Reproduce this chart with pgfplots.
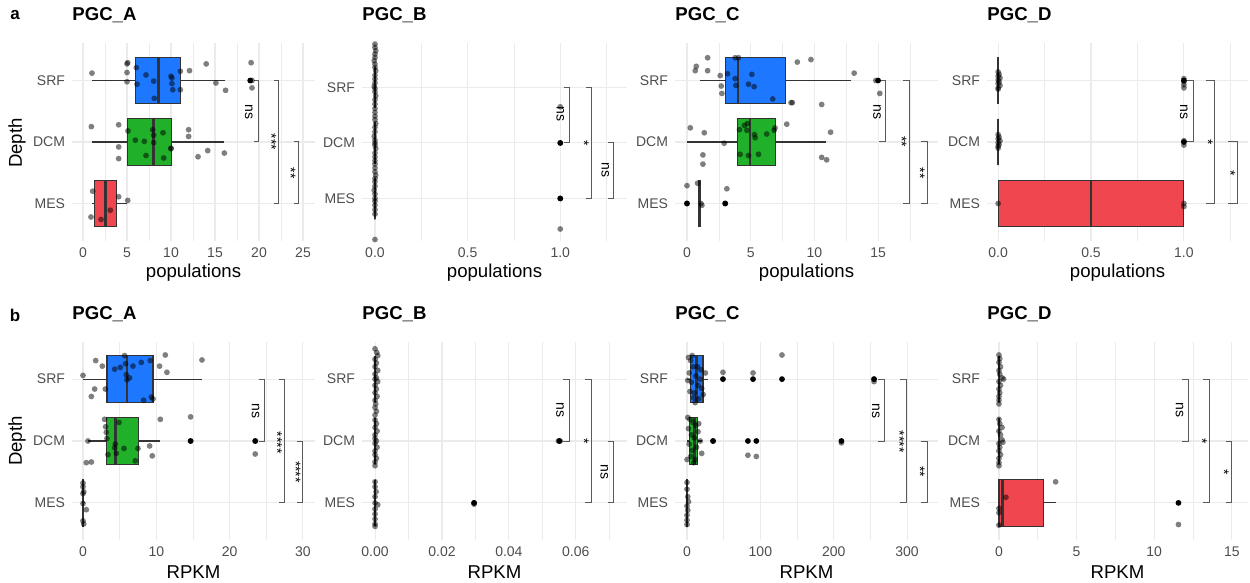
\documentclass[border=0pt]{standalone}
\usepackage{fontspec}
\setmainfont{Liberation Sans}
\usepackage{pgfplots}
\pgfplotsset{compat=1.18}
\usepgfplotslibrary{statistics}
\definecolor{cSRF}{RGB}{30,120,255}
\definecolor{cDCM}{RGB}{32,176,42}
\definecolor{cMES}{RGB}{240,70,80}
\definecolor{gridc}{RGB}{235,235,235}
\definecolor{tickc}{RGB}{77,77,77}
\definecolor{boxc}{RGB}{51,51,51}
\definecolor{brkc}{RGB}{90,90,90}
\tikzset{lab/.style={font=\fontsize{7}{8}\selectfont, rotate=-90, inner sep=0pt}}
\pgfplotsset{
 panel/.style={scale only axis, height=99pt, axis line style={draw=none}, tick style={draw=none},
  xmajorgrids, xminorgrids, ymajorgrids,
  major grid style={gridc, line width=0.55pt}, minor grid style={gridc, line width=0.3pt},
  ytick={1,2,3}, yticklabels={MES,DCM,SRF},
  tick label style={font=\fontsize{7}{8}\selectfont, text=tickc},
  /pgf/number format/assume math mode=true,
  xlabel style={font=\fontsize{9.3}{10}\selectfont, at={(axis description cs:0.5,-0.16)}, anchor=center},
  title style={font=\bfseries\fontsize{9.3}{10}\selectfont, at={(axis description cs:0,1)}, anchor=west, yshift=8pt, inner sep=0pt},
  clip=false, scaled x ticks=false},
 pts/.style={only marks, mark=*, mark size=1.45pt, mark options={draw=black, draw opacity=0, fill=black, fill opacity=0.5}},
 outl/.style={only marks, mark=*, mark size=1.45pt, mark options={draw=black, draw opacity=0, fill=black}},
 brk/.style={brkc, line width=0.5pt},
 bx/.style={draw=boxc, line width=0.55pt, fill=#1, boxplot/every median/.style={line width=1.3pt}},
}
\begin{document}
\begin{tikzpicture}
\useasboundingbox (0,0) rectangle (625pt,-291.5pt);
\begin{scope}[x=0.5pt,y=-0.5pt]
\node[font=\bfseries\fontsize{8.5}{10}\selectfont] at (15,15) {a};
\node[font=\bfseries\fontsize{8.5}{10}\selectfont] at (15,315) {b};
\node[font=\fontsize{9.3}{10}\selectfont, rotate=90] at (17,143) {Depth};
\node[font=\fontsize{9.3}{10}\selectfont, rotate=90] at (17,441) {Depth};
\end{scope}

% ---------------- a: PGC_A
\begin{axis}[panel, at={(36pt,-120.5pt)}, anchor=south west, width=121.5pt,
  xmin=-1.25, xmax=26.36, ymin=0.39, ymax=3.61,
  xtick={0,5,10,15,20,25}, xticklabels={0,5,10,15,20,25}, minor xtick={2.5,7.5,12.5,17.5,22.5},
  xlabel={populations}, title={PGC\_A}]
\addplot[bx=cSRF, boxplot prepared={lower whisker=1, lower quartile=6, median=8.6, upper quartile=11.1, upper whisker=16.1, draw position=3, box extend=0.75, whisker extend=0, draw direction=x}] coordinates {};
\addplot[bx=cDCM, boxplot prepared={lower whisker=1, lower quartile=5.08, median=8.03, upper quartile=10.1, upper whisker=16.06, draw position=2, box extend=0.75, whisker extend=0, draw direction=x}] coordinates {};
\addplot[bx=cMES, boxplot prepared={lower whisker=1, lower quartile=1.29, median=2.54, upper quartile=3.79, upper whisker=5, draw position=1, box extend=0.75, whisker extend=0, draw direction=x}] coordinates {};
\addplot[outl] coordinates {(19,3)};
\addplot[pts] coordinates {(1.02,3.12) (5.0,3.27) (5.08,3.29) (5.0,3.13) (5.0,2.98) (6.06,3.21) (6.14,2.94) (7.16,3.09) (8.03,2.99) (8.1,2.71) (10.0,3.07) (10.1,3.04) (10.1,2.95) (10.2,2.85) (11.06,3.15) (11.06,2.85) (12.1,3.16) (14.0,3.27) (15.1,2.96) (16.2,2.84) (19.1,3.29) (19.2,3.0) (19.2,2.88)
 (0.95,2.25) (4.05,2.28) (5.11,2.18) (4.05,1.92) (4.05,1.73) (5.95,2.03) (6.97,2.01) (7.16,1.78) (7.92,2.2) (8.03,2.11) (8.03,1.99) (9.09,2.15) (9.17,1.74) (10.0,1.89) (10.0,1.9) (12.0,2.2) (12.0,2.09) (13.07,1.76) (14.17,1.86) (16.06,1.82)
 (1.1,1.2) (4.05,1.11) (5.08,1.05) (3.1,0.89) (2.05,0.74) (0.91,0.78)};
\addplot[brk] coordinates {(19.45,3) (19.96,3) (19.96,2) (19.45,2)};
\addplot[brk] coordinates {(21.72,3) (22.23,3) (22.23,1) (21.72,1)};
\addplot[brk] coordinates {(23.92,2) (24.43,2) (24.43,1) (23.92,1)};
\node[lab] at (axis cs:18.83,2.49) {ns};
\node[lab] at (axis cs:21.40,2.0) {***};
\node[lab] at (axis cs:23.60,1.49) {**};
\end{axis}

% ---------------- a: PGC_B
\begin{axis}[panel, at={(181pt,-120.5pt)}, anchor=south west, width=132.5pt,
  xmin=-0.07, xmax=1.36, ymin=0.234, ymax=3.80,
  xtick={0,0.5,1}, xticklabels={0.0,0.5,1.0}, minor xtick={0.25,0.75,1.25},
  xlabel={populations}, title={PGC\_B}]
\addplot[bx=cSRF, boxplot prepared={lower whisker=0, lower quartile=0, median=0, upper quartile=0, upper whisker=0, draw position=3, box extend=0.75, whisker extend=0, draw direction=x}] coordinates {};
\addplot[bx=cDCM, boxplot prepared={lower whisker=0, lower quartile=0, median=0, upper quartile=0, upper whisker=0, draw position=2, box extend=0.75, whisker extend=0, draw direction=x}] coordinates {};
\addplot[bx=cMES, boxplot prepared={lower whisker=0, lower quartile=0, median=0, upper quartile=0, upper whisker=0, draw position=1, box extend=0.75, whisker extend=0, draw direction=x}] coordinates {};
\addplot[outl] coordinates {(1,2) (1,1)};
\addplot[pts] coordinates {(0,3.78) (0,3.72) (0.004,3.66) (0,3.6) (0,3.54) (-0.004,3.48) (0,3.42) (0,3.36) (0.004,3.3) (0,3.22) (0,3.15) (0,3.08) (-0.004,3.02) (0,2.98) (0,2.92) (0.004,2.85) (0,2.78) (0,2.7) (0,2.62) (0,2.55)
 (0,2.48) (0,2.42) (0.004,2.35) (0,2.28) (0,2.2) (-0.004,2.12) (0,2.05) (0,2.0) (0,1.96) (0.004,1.9) (0,1.82) (0,1.75) (0,1.68) (0,1.62)
 (0,1.55) (0,1.48) (0.004,1.42) (0,1.36) (0,1.3) (0,1.22) (-0.004,1.15) (0,1.08) (0,1.0) (0,0.95) (0,0.88) (0,0.8) (0,0.72) (0,0.26)
 (1,2.65) (1,2.0) (1,1.0) (1,0.45)};
\addplot[brk] coordinates {(1.02,3) (1.05,3) (1.05,2) (1.02,2)};
\addplot[brk] coordinates {(1.138,3) (1.168,3) (1.168,1) (1.138,1)};
\addplot[brk] coordinates {(1.258,2) (1.288,2) (1.288,1) (1.258,1)};
\node[lab] at (axis cs:1.0,2.52) {ns};
\node[lab] at (axis cs:1.128,2.0) {*};
\node[lab] at (axis cs:1.243,1.51) {ns};
\end{axis}

% ---------------- a: PGC_C
\begin{axis}[panel, at={(337.5pt,-120.5pt)}, anchor=south west, width=131.5pt,
  xmin=-0.94, xmax=19.7, ymin=0.39, ymax=3.61,
  xtick={0,5,10,15}, xticklabels={0,5,10,15}, minor xtick={2.5,7.5,12.5,17.5},
  xlabel={populations}, title={PGC\_C}]
\addplot[bx=cSRF, boxplot prepared={lower whisker=1, lower quartile=3, median=4, upper quartile=7.7, upper whisker=12.9, draw position=3, box extend=0.75, whisker extend=0, draw direction=x}] coordinates {};
\addplot[bx=cDCM, boxplot prepared={lower whisker=0, lower quartile=3.97, median=4.96, upper quartile=6.97, upper whisker=10.9, draw position=2, box extend=0.75, whisker extend=0, draw direction=x}] coordinates {};
\addplot[bx=cMES, boxplot prepared={lower whisker=1, lower quartile=1, median=1, upper quartile=1, upper whisker=1, draw position=1, box extend=0.75, whisker extend=0, draw direction=x}] coordinates {};
\addplot[outl] coordinates {(15,3) (0,1) (3,1)};
\addplot[pts] coordinates {(1.62,3.37) (0.73,3.23) (0.65,3.16) (1.62,3.16) (3.78,3.37) (4.04,3.37) (2.61,3.08) (2.69,2.91) (2.74,2.79) (3.18,3.11) (3.78,3.03) (3.84,2.92) (4.83,2.94) (5.09,3.10) (5.27,2.90) (6.73,2.70) (8.17,2.64) (8.27,2.64) (8.66,3.30) (9.73,3.34) (10.57,2.61) (13.12,3.12) (14.82,3.0) (15.13,2.79)
 (0.26,2.23) (1.36,2.15) (2.92,1.98) (1.25,1.79) (1.25,1.64) (4.12,2.2) (4.51,2.27) (4.75,2.3) (4.7,2.19) (5.3,2.12) (5.35,2.07) (6.26,2.13) (6.84,2.19) (6.91,2.23) (7.83,2.29) (5.61,1.8) (10.57,1.75) (10.96,1.71) (11.27,2.16) (4.17,1.8) (4.83,1.78)
 (0,1.29) (0.83,1.33) (0,1.0) (1.1,1.0) (1.17,0.97) (3.0,1.0) (3.13,1.24)};
\addplot[brk] coordinates {(15.09,3) (15.6,3) (15.6,2) (15.09,2)};
\addplot[brk] coordinates {(16.92,3) (17.43,3) (17.43,1) (16.92,1)};
\addplot[brk] coordinates {(18.33,2) (18.84,2) (18.84,1) (18.33,1)};
\node[lab] at (axis cs:14.92,2.49) {ns};
\node[lab] at (axis cs:16.85,2.0) {**};
\node[lab] at (axis cs:18.28,1.49) {**};
\end{axis}

% ---------------- a: PGC_D
\begin{axis}[panel, at={(493.5pt,-120.5pt)}, anchor=south west, width=130.5pt,
  xmin=-0.06, xmax=1.345, ymin=0.39, ymax=3.61,
  xtick={0,0.5,1}, xticklabels={0.0,0.5,1.0}, minor xtick={0.25,0.75,1.25},
  xlabel={populations}, title={PGC\_D}]
\addplot[bx=cSRF, boxplot prepared={lower whisker=0, lower quartile=0, median=0, upper quartile=0, upper whisker=0, draw position=3, box extend=0.75, whisker extend=0, draw direction=x}] coordinates {};
\addplot[bx=cDCM, boxplot prepared={lower whisker=0, lower quartile=0, median=0, upper quartile=0, upper whisker=0, draw position=2, box extend=0.75, whisker extend=0, draw direction=x}] coordinates {};
\addplot[bx=cMES, boxplot prepared={lower whisker=0, lower quartile=0, median=0.5, upper quartile=1, upper whisker=1, draw position=1, box extend=0.75, whisker extend=0, draw direction=x}] coordinates {};
\addplot[outl] coordinates {(1,3) (1,2)};
\addplot[pts] coordinates {(0,3.14) (0.005,3.1) (0,3.07) (0.01,3.04) (0,3.01) (0.005,2.98) (0,2.95) (0.01,2.92) (0,2.88) (0,2.86)
 (1,3.03) (1,2.98) (1,2.93) (1,2.88)
 (0,2.12) (0.005,2.08) (0,2.05) (0.01,2.02) (0,1.99) (0.005,1.96) (0,1.93) (0,1.9)
 (1,2.02) (1,1.95)
 (0,1.0) (1,1.0) (1,0.95)};
\addplot[brk] coordinates {(1.002,3) (1.05,3) (1.05,2) (1.002,2)};
\addplot[brk] coordinates {(1.119,3) (1.167,3) (1.167,1) (1.119,1)};
\addplot[brk] coordinates {(1.239,2) (1.287,2) (1.287,1) (1.239,1)};
\node[lab] at (axis cs:1.0,2.49) {ns};
\node[lab] at (axis cs:1.129,2.0) {*};
\node[lab] at (axis cs:1.250,1.49) {*};
\end{axis}

% ---------------- b: PGC_A
\begin{axis}[panel, at={(36pt,-270pt)}, anchor=south west, width=121.5pt,
  xmin=-1.5, xmax=31.65, ymin=0.4, ymax=3.6,
  xtick={0,10,20,30}, xticklabels={0,10,20,30}, minor xtick={5,15,25},
  xlabel={RPKM}, title={PGC\_A}]
\addplot[bx=cSRF, boxplot prepared={lower whisker=0, lower quartile=3.27, median=6.0, upper quartile=9.55, upper whisker=16.2, draw position=3, box extend=0.75, whisker extend=0, draw direction=x}] coordinates {};
\addplot[bx=cDCM, boxplot prepared={lower whisker=0.7, lower quartile=3.18, median=4.45, upper quartile=7.6, upper whisker=10.45, draw position=2, box extend=0.75, whisker extend=0, draw direction=x}] coordinates {};
\addplot[bx=cMES, boxplot prepared={lower whisker=0, lower quartile=0, median=0, upper quartile=0.1, upper whisker=0.2, draw position=1, box extend=0.75, whisker extend=0, draw direction=x}] coordinates {};
\addplot[outl] coordinates {(14.68,2) (23.5,2)};
\addplot[pts] coordinates {(0,3.06) (1.73,3.3) (2.64,3.21) (1.59,2.84) (1.14,2.72) (3.05,2.84) (4.32,3.16) (5.09,3.19) (5.68,3.38) (5.82,3.25) (5.91,3.07) (6.0,2.99) (6.36,3.02) (6.82,3.21) (7.95,3.27) (8.27,2.66) (9.18,3.3) (9.32,2.71) (9.55,2.68) (10.45,3.21) (11.23,3.39) (11.45,3.11) (16.23,3.31)
 (0.68,2.0) (0.45,1.65) (1.14,1.66) (2.95,2.35) (3.09,2.23) (3.18,2.14) (3.27,2.04) (3.41,1.78) (4.32,1.89) (4.41,1.95) (4.55,1.8) (4.91,2.3) (5.59,1.88) (7.5,1.88) (7.14,1.68) (9.09,1.92) (9.45,1.76) (10.55,2.35) (14.68,2.39) (14.68,2.0) (23.5,2.0) (23.5,1.79)
 (0,1.32) (0,1.26) (0.1,1.18) (0,1.15) (0,0.99) (0.45,0.89) (0,0.71) (0.1,0.66)};
\addplot[brk] coordinates {(23.95,3) (24.77,3) (24.77,2) (23.95,2)};
\addplot[brk] coordinates {(26.68,3) (27.5,3) (27.5,1) (26.68,1)};
\addplot[brk] coordinates {(29.18,2) (30.0,2) (30.0,1) (29.18,1)};
\node[lab] at (axis cs:23.55,2.48) {ns};
\node[lab] at (axis cs:26.5,1.97) {****};
\node[lab] at (axis cs:29.0,1.5) {****};
\end{axis}

% ---------------- b: PGC_B
\begin{axis}[panel, at={(181pt,-270pt)}, anchor=south west, width=132.5pt,
  xmin=-0.0039, xmax=0.0753, ymin=0.4, ymax=3.6,
  xtick={0,0.02,0.04,0.06}, xticklabels={0.00,0.02,0.04,0.06}, minor xtick={0.01,0.03,0.05,0.07},
  xlabel={RPKM}, title={PGC\_B}]
\addplot[bx=cSRF, boxplot prepared={lower whisker=0, lower quartile=0, median=0, upper quartile=0, upper whisker=0, draw position=3, box extend=0.75, whisker extend=0, draw direction=x}] coordinates {};
\addplot[bx=cDCM, boxplot prepared={lower whisker=0, lower quartile=0, median=0, upper quartile=0, upper whisker=0, draw position=2, box extend=0.75, whisker extend=0, draw direction=x}] coordinates {};
\addplot[bx=cMES, boxplot prepared={lower whisker=0, lower quartile=0, median=0, upper quartile=0, upper whisker=0, draw position=1, box extend=0.75, whisker extend=0, draw direction=x}] coordinates {};
\addplot[outl] coordinates {(0.0551,2) (0.0296,1)};
\addplot[pts] coordinates {(0,3.49) (0.0005,3.43) (0.0008,3.38) (0,3.32) (0.0004,3.26) (0,3.2) (0.0008,3.14) (0,3.08) (0.0004,3.02) (0,3.0) (0.0008,2.96) (0,2.9) (0.0004,2.84) (0,2.78) (0.0006,2.72) (0,2.66) (0.0002,2.6) (0,2.54) (0.0004,2.48) (0,2.42)
 (0,2.34) (0.0004,2.28) (0,2.22) (0.0006,2.16) (0,2.1) (0,2.04) (0.0004,2.0) (0,1.96) (0.0006,1.9) (0,1.84) (0,1.78) (0.0004,1.72) (0,1.66) (0,1.6)
 (0,1.34) (0,1.26) (0.0003,1.18) (0,1.1) (0,1.0) (0.0008,0.97) (0,0.9) (0,0.82) (0,0.74) (0,0.66) (0,0.62)
 (0.0548,2.0) (0.0553,2.0) (0.0296,1.0) (0.0296,0.98)};
\addplot[brk] coordinates {(0.0563,3) (0.0581,3) (0.0581,2) (0.0563,2)};
\addplot[brk] coordinates {(0.0628,3) (0.0646,3) (0.0646,1) (0.0628,1)};
\addplot[brk] coordinates {(0.0695,2) (0.0713,2) (0.0713,1) (0.0695,1)};
\node[lab] at (axis cs:0.0553,2.5) {ns};
\node[lab] at (axis cs:0.0624,2.0) {*};
\node[lab] at (axis cs:0.0685,1.5) {ns};
\end{axis}

% ---------------- b: PGC_C
\begin{axis}[panel, at={(337.5pt,-270pt)}, anchor=south west, width=131.5pt,
  xmin=-16.4, xmax=342.2, ymin=0.4, ymax=3.6,
  xtick={0,100,200,300}, xticklabels={0,100,200,300}, minor xtick={50,150,250},
  xlabel={RPKM}, title={PGC\_C}]
\addplot[bx=cSRF, boxplot prepared={lower whisker=0, lower quartile=4.5, median=12.7, upper quartile=21.8, upper whisker=28, draw position=3, box extend=0.75, whisker extend=0, draw direction=x}] coordinates {};
\addplot[bx=cDCM, boxplot prepared={lower whisker=0, lower quartile=3.6, median=10.5, upper quartile=14, upper whisker=20, draw position=2, box extend=0.75, whisker extend=0, draw direction=x}] coordinates {};
\addplot[bx=cMES, boxplot prepared={lower whisker=0, lower quartile=0, median=0, upper quartile=0.5, upper whisker=1, draw position=1, box extend=0.75, whisker extend=0, draw direction=x}] coordinates {};
\addplot[outl] coordinates {(49,3) (90,3) (129.5,3) (255,3) (35.5,2) (83,2) (94.5,2) (210.5,2)};
\addplot[pts] coordinates {(2,3.35) (5,3.3) (8,3.2) (3,3.1) (12,3.05) (18,3.0) (1,2.98) (6,2.95) (15,2.9) (20,2.85) (4,2.8) (10,2.78) (22,2.75) (9,2.7) (16,2.68) (14,3.2) (19,3.15) (7,3.38) (25,3.1) (11,2.62)
 (49,3.11) (90,3.1) (129.5,3.39) (255,2.96) (255,3.0)
 (1,2.38) (4,2.35) (8,2.3) (12,2.25) (2,2.2) (15,2.15) (6,2.1) (10,2.05) (18,2.0) (3,1.95) (13,1.9) (7,1.85) (20,1.8) (5,1.75) (11,1.7) (9,1.65) (0,1.7) (16,2.28)
 (35.5,2.0) (83,1.77) (94.5,1.75) (210.5,1.97)
 (0,1.33) (0,1.22) (1,1.1) (2,1.02) (0,0.95) (1,0.88) (0,0.8) (0,0.72) (0,0.65)};
\addplot[brk] coordinates {(260.4,3) (268.6,3) (268.6,2) (260.4,2)};
\addplot[brk] coordinates {(290.9,3) (299.1,3) (299.1,1) (290.9,1)};
\addplot[brk] coordinates {(319.1,2) (327.3,2) (327.3,1) (319.1,1)};
\node[lab] at (axis cs:257.3,2.48) {ns};
\node[lab] at (axis cs:289.5,1.99) {****};
\node[lab] at (axis cs:317.7,1.5) {**};
\end{axis}

% ---------------- b: PGC_D
\begin{axis}[panel, at={(493.5pt,-270pt)}, anchor=south west, width=130.5pt,
  xmin=-0.77, xmax=16.04, ymin=0.4, ymax=3.6,
  xtick={0,5,10,15}, xticklabels={0,5,10,15}, minor xtick={2.5,7.5,12.5},
  xlabel={RPKM}, title={PGC\_D}]
\addplot[bx=cSRF, boxplot prepared={lower whisker=0, lower quartile=0, median=0, upper quartile=0, upper whisker=0, draw position=3, box extend=0.75, whisker extend=0, draw direction=x}] coordinates {};
\addplot[bx=cDCM, boxplot prepared={lower whisker=0, lower quartile=0, median=0, upper quartile=0, upper whisker=0, draw position=2, box extend=0.75, whisker extend=0, draw direction=x}] coordinates {};
\addplot[bx=cMES, boxplot prepared={lower whisker=0, lower quartile=0, median=0.24, upper quartile=2.86, upper whisker=3.65, draw position=1, box extend=0.75, whisker extend=0, draw direction=x}] coordinates {};
\addplot[outl] coordinates {(11.56,1)};
\addplot[pts] coordinates {(0,3.39) (0.05,3.33) (0,3.27) (0.1,3.2) (0,3.14) (0.05,3.08) (0.2,3.02) (0.3,3.0) (0,2.96) (0.1,2.9) (0,2.84) (0.05,2.78) (0,2.72) (0,2.66) (0,2.6)
 (0,2.35) (0.05,2.28) (0.2,2.22) (0,2.16) (0.1,2.1) (0.2,2.02) (0,1.96) (0.25,1.98) (0.05,1.9) (0,1.84) (0.1,1.78) (0,1.72) (0,1.65) (0,1.6)
 (3.65,1.34) (0.45,1.09) (0,0.91) (0,0.84) (0,0.64) (11.56,0.65)};
\addplot[brk] coordinates {(11.81,3) (12.2,3) (12.2,2) (11.81,2)};
\addplot[brk] coordinates {(13.17,3) (13.56,3) (13.56,1) (13.17,1)};
\addplot[brk] coordinates {(14.61,2) (15.0,2) (15.0,1) (14.61,1)};
\node[lab] at (axis cs:11.63,2.5) {ns};
\node[lab] at (axis cs:13.09,2.0) {*};
\node[lab] at (axis cs:14.49,1.49) {*};
\end{axis}
\end{tikzpicture}
\end{document}
